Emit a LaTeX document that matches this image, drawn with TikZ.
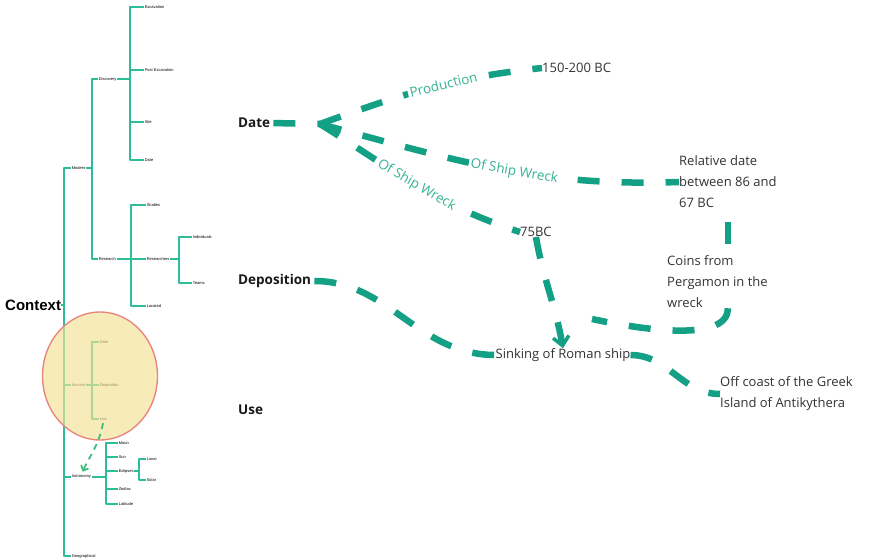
\documentclass[tikz,border=0pt]{standalone}
\usepackage{fontspec}
\setmainfont{Open Sans}
\newfontfamily\treefont{Liberation Sans}
\usetikzlibrary{arrows.meta,shapes.geometric}
\definecolor{ctxTree}{HTML}{2DBE99}
\definecolor{ctxLink}{HTML}{14A085}
\definecolor{ctxLabel}{HTML}{35B393}
\definecolor{ctxInk}{HTML}{333333}
\definecolor{ctxFocus}{HTML}{F3E295}
\definecolor{ctxRim}{HTML}{E8877E}
\definecolor{ctxHint}{HTML}{3DBE7A}
\tikzset{
  ctx diagram/.style={x=1pt, y=1pt, line join=round},
  ctx leaf/.style={anchor=west, inner sep=0.6pt,
    font=\treefont\fontsize{4}{5}\selectfont, text=black},
  ctx root/.style={anchor=west, inner sep=0pt,
    font=\treefont\bfseries\fontsize{15}{18}\selectfont, text=black},
  ctx tree/.style={draw=ctxTree, line width=1.6pt},
  ctx topic/.style={anchor=west, inner sep=0pt,
    font=\bfseries\fontsize{13.5}{16}\selectfont, text=black!90},
  ctx fact/.style={anchor=west, inner sep=0pt, align=left,
    font=\fontsize{13}{21}\selectfont, text=ctxInk},
  ctx link/.style={draw=ctxLink, line width=6.5pt,
    dash pattern=on 22pt off 22pt},
  ctx edge label/.style={font=\fontsize{13.5}{16}\selectfont, text=ctxLabel,
    fill=white, inner sep=2pt, sloped},
  ctx focus/.style={ellipse, draw=ctxRim, line width=1.4pt, fill=ctxFocus,
    fill opacity=0.65, draw opacity=1, minimum width=115pt,
    minimum height=128pt, inner sep=0pt},
  ctx hint/.style={draw=ctxHint, line width=1.8pt,
    dash pattern=on 6pt off 5pt, -{Straight Barb[length=4pt,width=8pt]}},
  ctx sink tip/.style={-{Straight Barb[length=9pt,width=16pt,line width=3.5pt]}}
}
\begin{document}
\begin{tikzpicture}[ctx diagram]
\path[use as bounding box, fill=white] (0,0) rectangle (879,-560);

% context tree
\node[ctx root] (context) at (5,-305) {Context};
\node[ctx leaf] (modern) at (71,-168) {Modern};
\node[ctx leaf] (ancient) at (71,-385) {Ancient};
\node[ctx leaf] (astro) at (71,-477) {Astronomy};
\node[ctx leaf] (geo) at (71,-556) {Geographical};
\coordinate (trunk) at (64,-305);
\draw[ctx tree] (context.east) -- (trunk);
\draw[ctx tree] (modern.west) -| (trunk |- geo.west) -- (geo.west);
\foreach \n in {ancient,astro}
  \draw[ctx tree] (trunk |- \n.west) -- (\n.west);

\node[ctx leaf] (discovery) at (98,-79) {Discovery};
\node[ctx leaf] (research) at (98,-259) {Research};
\coordinate (modbar) at (92,-168);
\draw[ctx tree] (modern.east) -- (modbar);
\draw[ctx tree] (discovery.west) -| (modbar |- research.west) -- (research.west);

\node[ctx leaf] (excavation) at (144,-7) {Excavation};
\node[ctx leaf] (postexc) at (144,-70) {Post Excavation};
\node[ctx leaf] (site) at (144,-122) {Site};
\node[ctx leaf] (mdate) at (144,-160) {Date};
\coordinate (discbar) at (130,-79);
\draw[ctx tree] (discovery.east) -- (discbar);
\draw[ctx tree] (excavation.west) -| (discbar |- mdate.west) -- (mdate.west);
\foreach \n in {postexc,site}
  \draw[ctx tree] (discbar |- \n.west) -- (\n.west);

\node[ctx leaf] (studies) at (146,-205) {Studies};
\node[ctx leaf] (researchers) at (146,-259) {Researchers};
\node[ctx leaf] (located) at (146,-306) {Located};
\coordinate (resbar) at (131,-259);
\draw[ctx tree] (research.east) -- (researchers.west);
\draw[ctx tree] (studies.west) -| (resbar |- located.west) -- (located.west);

\node[ctx leaf] (individuals) at (192,-237) {Individuals};
\node[ctx leaf] (teams) at (192,-283) {Teams};
\coordinate (rsbar) at (179,-259);
\draw[ctx tree] (researchers.east) -- (rsbar);
\draw[ctx tree] (individuals.west) -| (rsbar |- teams.west) -- (teams.west);

\node[ctx leaf] (adate) at (99,-342) {Date};
\node[ctx leaf] (adepo) at (99,-385) {Deposition};
\node[ctx leaf] (ause) at (99,-419) {Use};
\coordinate (ancbar) at (92,-385);
\draw[ctx tree] (ancient.east) -- (adepo.west);
\draw[ctx tree] (adate.west) -| (ancbar |- ause.west) -- (ause.west);

\node[ctx leaf] (moon) at (118,-443) {Moon};
\node[ctx leaf] (sun) at (118,-457) {Sun};
\node[ctx leaf] (eclipses) at (118,-471) {Eclipses};
\node[ctx leaf] (zodiac) at (118,-489) {Zodiac};
\node[ctx leaf] (latitude) at (118,-504) {Latitude};
\coordinate (astbar) at (106,-477);
\draw[ctx tree] (astro.east) -- (astbar);
\draw[ctx tree] (moon.west) -| (astbar |- latitude.west) -- (latitude.west);
\foreach \n in {sun,eclipses,zodiac}
  \draw[ctx tree] (astbar |- \n.west) -- (\n.west);

\node[ctx leaf] (lunar) at (146,-459) {Lunar};
\node[ctx leaf] (solar) at (146,-480) {Solar};
\coordinate (eclbar) at (139,-471);
\draw[ctx tree] (eclipses.east) -- (eclbar);
\draw[ctx tree] (lunar.west) -| (eclbar |- solar.west) -- (solar.west);

% highlight of the ancient branch
\node[ctx focus] (focus) at (100,-376) {};
\draw[ctx hint, shorten <=2pt, shorten >=3pt] (ause.south) to[out=-100,in=65] (astro.north);

% ancient context in detail
\node[ctx topic] (date) at (238,-123) {Date};
\node[ctx topic] (deposition) at (238,-281) {Deposition};
\node[ctx topic] (use) at (238,-410) {Use};
\node[ctx fact] (early) at (542,-68) {150-200 BC};
\node[ctx fact] (late) at (520,-232) {75BC};
\node[ctx fact] (relative) at (679,-182) {Relative date\\between 86 and\\67 BC};
\node[ctx fact] (coins) at (667,-282) {Coins from\\Pergamon in the\\wreck};
\node[ctx fact, anchor=center] (sinking) at (563,-355) {Sinking of Roman ship};
\node[ctx fact] (coast) at (720,-394) {Off coast of the Greek\\Island of Antikythera};

\coordinate (fork) at (320,-124);
\coordinate (merge) at (592,-319);
\draw[ctx link, shorten <=3pt] (date.east) -- (fork);
\draw[ctx link] (fork) to[out=20,in=186] node[ctx edge label, pos=0.57] {Production} (early.west);
\draw[ctx link] (fork) to[out=-15,in=182] node[ctx edge label, pos=0.55] {Of Ship Wreck} (relative.west);
\draw[ctx link] (fork) to[out=-32,in=162] node[ctx edge label, pos=0.5] {Of Ship Wreck} (late.west);
\draw[ctx link, ctx sink tip] (late.south) to[out=-80,in=100] (sinking.north);
\draw[ctx link, shorten <=14pt] (relative.south) -- (relative.south |- coins.north);
\draw[ctx link] (relative.south |- coins.south) to[out=-90,in=-12,looseness=0.7] (merge);
\draw[ctx link, shorten <=3pt] (deposition.east) to[out=0,in=180] (sinking.west);
\draw[ctx link] (sinking.east) to[out=0,in=180] (coast.west);
\end{tikzpicture}
\end{document}
